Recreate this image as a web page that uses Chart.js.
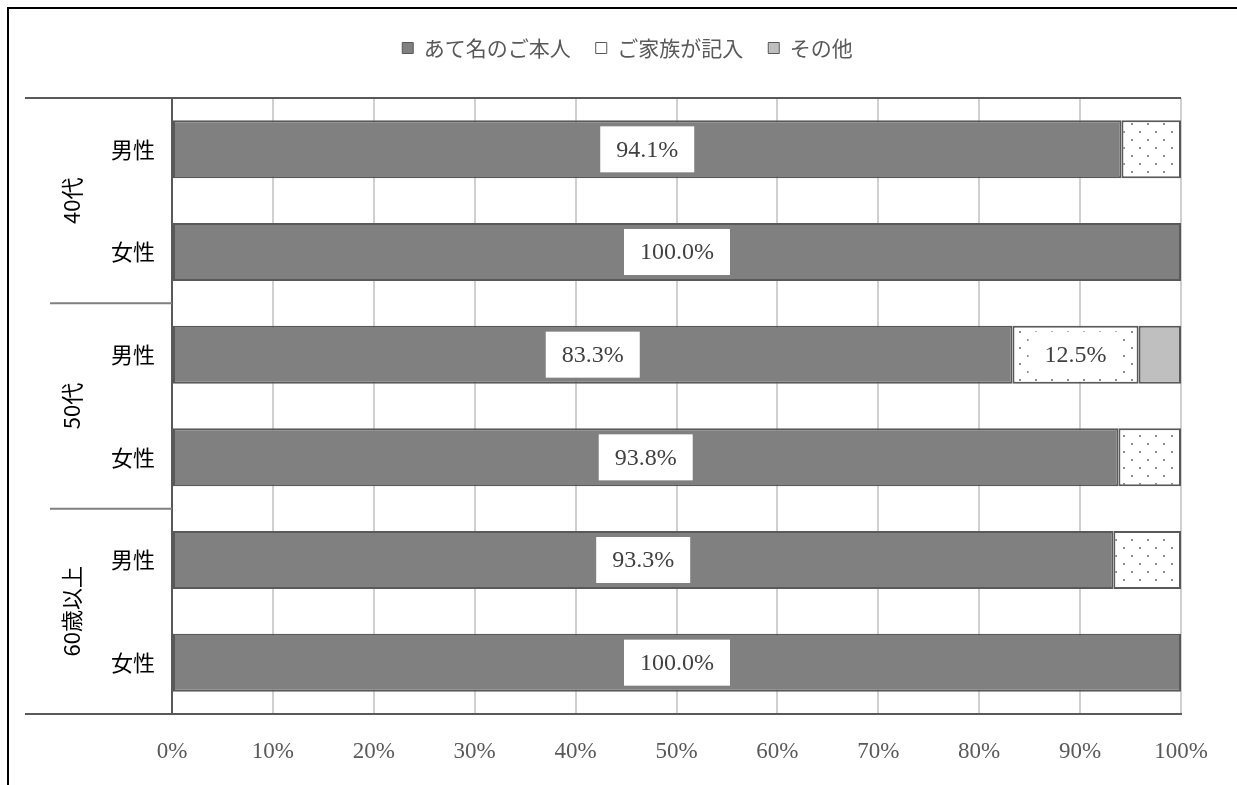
<!DOCTYPE html>
<html>
<head>
<meta charset="utf-8">
<script src="https://cdn.jsdelivr.net/npm/chart.js@4"></script>
<style>
  html, body { margin: 0; padding: 0; background: #fff; }
  #wrap { position: relative; width: 1237px; height: 785px; }
  #frame { position: absolute; left: 7px; top: 7px; right: 0; bottom: 0; border-top: 2px solid #000; border-left: 2px solid #000; pointer-events: none; }
</style>
</head>
<body>
<div id="wrap">
  <canvas id="myChart" width="1237" height="785"></canvas>
  <div id="frame"></div>
</div>
<script>
let group_labels = ['40代', '50代', '60歳以上'];
let sex_labels = ['男性', '女性', '男性', '女性', '男性', '女性'];
let series_names = ['あて名のご本人', 'ご家族が記入', 'その他'];
let honnin = [94.1, 100.0, 83.3, 93.8, 93.3, 100.0];
let kazoku = [5.9, 0, 12.5, 6.2, 6.7, 0];
let sonota = [0, 0, 4.2, 0, 0, 0];
let tick_labels = ['0%', '10%', '20%', '30%', '40%', '50%', '60%', '70%', '80%', '90%', '100%'];

const sansFont = '"Noto Sans CJK JP", "Noto Sans", sans-serif';
const serifFont = '"Liberation Serif", "DejaVu Serif", serif';

// dotted fill for the second series
function makeDots() {
  let c = document.createElement('canvas');
  c.width = 16;
  c.height = 16;
  let g = c.getContext('2d');
  g.fillStyle = '#ffffff';
  g.fillRect(0, 0, 16, 16);
  g.fillStyle = '#8c8c8c';
  g.fillRect(3, 3, 2, 2);
  g.fillRect(11, 11, 2, 2);
  return g.createPattern(c, 'repeat');
}
const ctx0 = document.getElementById('myChart').getContext('2d');
const dots = makeDots();

// value labels with a white box (first series, plus 12.5%)
const valueLabels = {
  id: 'valueLabels',
  afterDatasetsDraw(chart) {
    const c = chart.ctx;
    c.save();
    c.font = '24px ' + serifFont;
    c.textAlign = 'center';
    c.textBaseline = 'middle';
    chart.data.datasets.forEach((ds, di) => {
      if (di == 2) return;
      const meta = chart.getDatasetMeta(di);
      meta.data.forEach((bar, i) => {
        const v = ds.data[i];
        if (di == 1 && v < 10) return;
        if (!v) return;
        const x = (bar.x + bar.base) / 2;
        const y = bar.y;
        const txt = v.toFixed(1) + '%';
        const w = c.measureText(txt).width + 32;
        const h = 46;
        c.fillStyle = '#ffffff';
        c.fillRect(x - w / 2, y - h / 2, w, h);
        c.fillStyle = '#404040';
        c.fillText(txt, x, y + 1);
      });
    });
    c.restore();
  }
};

// group labels and separators on the left
const groupAxis = {
  id: 'groupAxis',
  afterDraw(chart) {
    const c = chart.ctx;
    const ys = chart.scales.y;
    const area = chart.chartArea;
    c.save();
    c.strokeStyle = '#595959';
    c.lineWidth = 2;
    // top edge of plot
    c.beginPath();
    c.moveTo(25, area.top);
    c.lineTo(area.right, area.top);
    c.stroke();
    c.beginPath();
    c.moveTo(25, area.bottom);
    c.lineTo(area.left, area.bottom);
    c.stroke();
    c.strokeStyle = '#7f7f7f';
    for (let g = 1; g < group_labels.length; g++) {
      const y = (ys.getPixelForValue(g * 2 - 1) + ys.getPixelForValue(g * 2)) / 2;
      c.beginPath();
      c.moveTo(50, y);
      c.lineTo(area.left, y);
      c.stroke();
    }
    c.fillStyle = '#000000';
    c.font = '22px ' + sansFont;
    c.textAlign = 'center';
    c.textBaseline = 'middle';
    group_labels.forEach((lab, g) => {
      const y = (ys.getPixelForValue(g * 2) + ys.getPixelForValue(g * 2 + 1)) / 2;
      c.save();
      c.translate(72, y);
      c.rotate(-Math.PI / 2);
      c.fillText(lab, 0, 0);
      c.restore();
    });
    c.restore();
  }
};

let data = {
  labels: sex_labels,
  datasets: [{
    label: series_names[0],
    data: honnin,
    backgroundColor: '#808080',
    borderColor: '#595959'
  }, {
    label: series_names[1],
    data: kazoku,
    backgroundColor: dots,
    borderColor: '#595959'
  }, {
    label: series_names[2],
    data: sonota,
    backgroundColor: '#bfbfbf',
    borderColor: '#595959'
  }]
};

let config = {
  type: 'bar',
  data: data,
  options: {
    indexAxis: 'y',
    responsive: false,
    animation: false,
    layout: { padding: { top: 12.5, left: 74, right: 56, bottom: 0 } },
    datasets: {
      bar: {
        borderWidth: 2,
        borderSkipped: false,
        categoryPercentage: 1,
        barPercentage: 0.565
      }
    },
    scales: {
      x: {
        stacked: true,
        min: 0,
        max: 100,
        ticks: {
          stepSize: 10,
          padding: 24,
          color: '#595959',
          font: { family: serifFont, size: 23 },
          callback: (v, i) => tick_labels[i]
        },
        grid: { color: '#d0d0d0', lineWidth: 2, drawTicks: false },
        border: { display: true, color: '#595959', width: 2 },
        afterFit: (s) => { s.height = 71; }
      },
      // empty strip between legend and plot
      gap: {
        type: 'linear',
        axis: 'x',
        position: 'top',
        grid: { display: false, drawTicks: false },
        border: { display: false },
        ticks: { display: false },
        afterFit: (s) => { s.height = 29.5; }
      },
      y: {
        stacked: true,
        ticks: {
          padding: 17,
          color: '#000000',
          font: { family: sansFont, size: 22 }
        },
        grid: { display: false, drawTicks: false },
        border: { display: true, color: '#595959', width: 2 },
        afterFit: (s) => { s.width = 98; }
      }
    },
    plugins: {
      legend: {
        position: 'top',
        labels: {
          boxWidth: 11,
          boxHeight: 11,
          padding: 25,
          color: '#595959',
          font: { family: sansFont, size: 21 },
          generateLabels: (chart) => chart.data.datasets.map((ds, i) => ({
            text: ds.label,
            fillStyle: i == 1 ? '#ffffff' : ds.backgroundColor,
            strokeStyle: '#595959',
            lineWidth: 1,
            fontColor: '#595959',
            datasetIndex: i,
            hidden: false
          }))
        }
      },
      tooltip: { enabled: false }
    }
  },
  plugins: [valueLabels, groupAxis]
};

let myChart = new Chart(ctx0, config);
</script>
</body>
</html>
